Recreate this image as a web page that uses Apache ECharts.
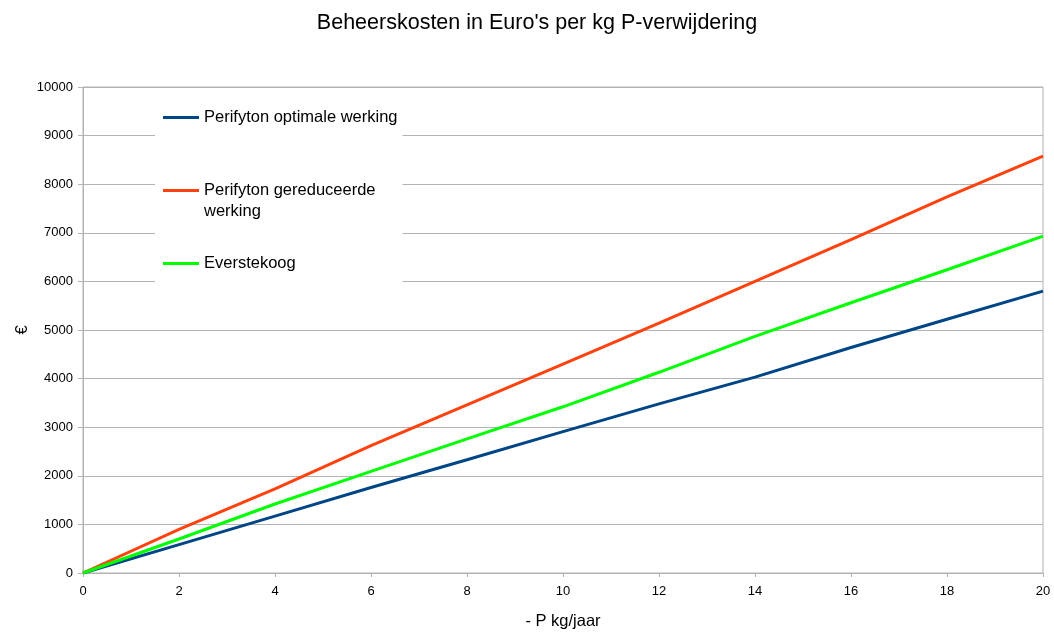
<!DOCTYPE html>
<html>
<head>
<meta charset="utf-8">
<script src="https://cdn.jsdelivr.net/npm/echarts@6/dist/echarts.min.js"></script>
<style>
  html, body { margin: 0; padding: 0; background: #fff; }
  #chart { width: 1054px; height: 632px; }
</style>
</head>
<body>
<div id="chart"></div>
<script>
// Removed phosphorus (kg per year) on the horizontal axis
const pKgPerYear = [0, 2, 4, 6, 8, 10, 12, 14, 16, 18, 20];

// Management costs in euro for each scenario
const perifytonOptimal = [0, 585, 1170, 1760, 2330, 2910, 3480, 4030, 4640, 5220, 5800];
const perifytonReduced = [0, 900, 1730, 2620, 3460, 4300, 5140, 6000, 6860, 7740, 8580];
const everstekoog      = [0, 700, 1420, 2090, 2760, 3420, 4130, 4870, 5560, 6240, 6930];

const seriesNames = [
  'Perifyton optimale werking',
  'Perifyton gereduceerde werking',
  'Everstekoog'
];

// Legend captions (second entry wraps onto two lines; the leading blank
// line keeps the swatch level with the first line of text)
const legendCaptions = {
  'Perifyton optimale werking': 'Perifyton optimale werking',
  'Perifyton gereduceerde werking': ' \nPerifyton gereduceerde\nwerking',
  'Everstekoog': 'Everstekoog'
};

const colors = ['#004586', '#ff420e', '#00ff00'];
const values = [perifytonOptimal, perifytonReduced, everstekoog];

const pairs = (xs, ys) => xs.map((x, i) => [x, ys[i]]);

const font = '"Liberation Sans", Arial, sans-serif';

const chart = echarts.init(document.getElementById('chart'), null, { renderer: 'canvas' });

chart.setOption({
  animation: false,
  backgroundColor: '#ffffff',
  title: {
    text: "Beheerskosten in Euro's per kg P-verwijdering",
    left: 532,
    top: 7,
    textAlign: 'center',
    textStyle: { fontFamily: font, fontSize: 21.5, fontWeight: 'normal', color: '#000' }
  },
  grid: {
    left: 83, right: 11, top: 87, bottom: 59,
    outerBoundsMode: 'none',
    containLabel: false,
    show: true, borderColor: '#b3b3b3', borderWidth: 1, backgroundColor: 'transparent'
  },
  legend: {
    orient: 'vertical',
    left: 155,
    top: 95,
    padding: [12, 5, 16, 8],
    backgroundColor: '#ffffff',
    icon: 'rect',
    itemWidth: 36,
    itemHeight: 3,
    itemGap: 31,
    data: seriesNames,
    formatter: name => legendCaptions[name],
    textStyle: { fontFamily: font, fontSize: 16.5, color: '#000', lineHeight: 21 }
  },
  xAxis: {
    type: 'value',
    min: 0, max: 20, interval: 2,
    name: '- P kg/jaar',
    nameLocation: 'middle',
    nameGap: 40,
    nameTextStyle: { fontFamily: font, fontSize: 16.5, color: '#000' },
    axisLine: { show: true, lineStyle: { color: '#b3b3b3' } },
    axisTick: { show: true, inside: false, length: 4, lineStyle: { color: '#b3b3b3' } },
    axisLabel: { fontFamily: font, fontSize: 13, color: '#000', margin: 12 },
    splitLine: { show: false }
  },
  yAxis: {
    type: 'value',
    min: 0, max: 10000, interval: 1000,
    name: '€',
    nameLocation: 'middle',
    nameGap: 52,
    nameRotate: 90,
    nameMoveOverlap: false,
    nameTextStyle: { fontFamily: font, fontSize: 16.5, color: '#000' },
    axisLine: { show: true, lineStyle: { color: '#b3b3b3' } },
    axisTick: { show: true, inside: false, length: 5, lineStyle: { color: '#b3b3b3' } },
    axisLabel: { fontFamily: font, fontSize: 13, color: '#000', margin: 10, formatter: v => String(v) },
    splitLine: { show: true, lineStyle: { color: '#b3b3b3', width: 1 } }
  },
  series: seriesNames.map((name, i) => ({
    name: name,
    type: 'line',
    data: pairs(pKgPerYear, values[i]),
    symbol: 'none',
    showSymbol: false,
    smooth: false,
    color: colors[i],
    lineStyle: { color: colors[i], width: 3 },
    itemStyle: { color: colors[i] },
    z: 3 + i
  }))
});
</script>
</body>
</html>
